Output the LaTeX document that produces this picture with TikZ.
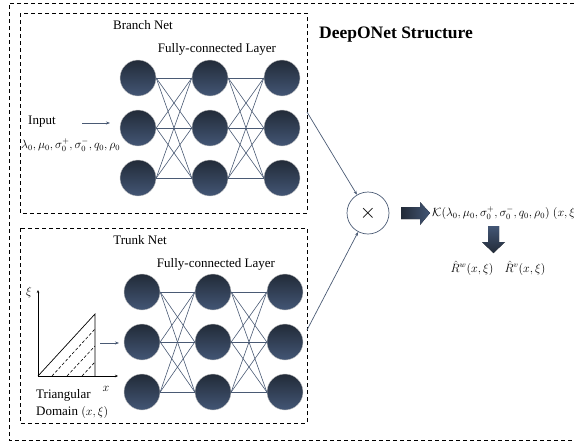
\documentclass[tikz,border=0pt]{standalone}
\usepackage{fontspec}
\setmainfont{Liberation Serif}
\usepackage{amsmath}
\usetikzlibrary{arrows.meta}
\definecolor{ndark}{HTML}{222B38}
\definecolor{nlight}{HTML}{435675}
\definecolor{linecol}{HTML}{4A5A74}
\begin{document}
\begin{tikzpicture}[x=1pt,y=-1pt,
  neuron/.style={circle, minimum size=36pt, inner sep=0pt, top color=ndark, bottom color=nlight, draw=gray!45, line width=0.4pt},
  conn/.style={draw=linecol, line width=0.6pt},
  dbox/.style={draw=black, line width=0.9pt, dash pattern=on 4pt off 3pt},
  lbl/.style={font=\fontsize{13}{15}\selectfont, inner sep=0pt},
  mlbl/.style={font=\fontsize{11.5}{13}\selectfont, inner sep=0pt},
  thin/.style={draw=linecol, line width=0.7pt, -{Stealth[length=4pt,width=3pt]}}
]
\useasboundingbox (0,0) rectangle (574,445);
% outer box (open to the right)
\draw[dbox] (574,3) -- (9,3) -- (9,440) -- (574,440);
% inner boxes
\draw[dbox] (20,13) rectangle (307,213);
\draw[dbox] (20,228) rectangle (307,423);
\coordinate (bR) at (307,112);
\coordinate (tR) at (307,330);

\node[font=\fontsize{17.5}{20}\selectfont\bfseries, inner sep=0pt] (title) at (396,35) {DeepONet Structure};

% Branch net
\node[lbl] (bnet) at (143,25) {Branch Net};
\node[lbl] (bfc) at (217,49) {Fully-connected Layer};
\foreach \c/\x in {1/138,2/210,3/282}
  \foreach \r/\y in {1/78,2/128,3/178}
    \node[neuron] (b\c\r) at (\x,\y) {};
\foreach \a/\b in {1/2,2/3}
  \foreach \i in {1,2,3}
    \foreach \j in {1,2,3}
      \draw[conn] (b\a\i.east) -- (b\b\j.west);
\node[lbl, anchor=west] (inp) at (28,122) {Input};
\coordinate (inA) at (82,123);
\coordinate (inB) at (110,123);
\draw[thin] (inA) -- (inB);
\node[mlbl, anchor=west] (params) at (21,145) {$\lambda_0,\mu_0,\sigma_0^+,\sigma_0^-,q_0,\rho_0$};

% Trunk net
\node[lbl] (tnet) at (140,240) {Trunk Net};
\node[lbl] (tfc) at (216,264) {Fully-connected Layer};
\foreach \c/\x in {1/142,2/213,3/285}
  \foreach \r/\y in {1/292,2/342,3/392}
    \node[neuron] (t\c\r) at (\x,\y) {};
\foreach \a/\b in {1/2,2/3}
  \foreach \i in {1,2,3}
    \foreach \j in {1,2,3}
      \draw[conn] (t\a\i.east) -- (t\b\j.west);

% triangular domain plot
\coordinate (O) at (38,376);
\coordinate (Ytop) at (38,290);
\coordinate (Xend) at (118,376);
\draw[line width=0.7pt, -{Stealth[length=3pt,width=2.5pt]}] (O) -- (Ytop);
\draw[line width=0.7pt, -{Stealth[length=3pt,width=2.5pt]}] (O) -- (Xend);
\draw[line width=0.7pt] (O) -- (95,314) -- (95,376);
\draw[line width=0.6pt, dash pattern=on 3pt off 2pt] (52,376) -- (95,329);
\draw[line width=0.6pt, dash pattern=on 3pt off 2pt] (67,376) -- (95,346);
\draw[line width=0.6pt, dash pattern=on 3pt off 2pt] (82,376) -- (95,362);
\node[mlbl] (xi) at (29,292) {$\xi$};
\node[mlbl] (xl) at (106,389) {$x$};
\node[lbl, anchor=west] (tri) at (36,395) {Triangular};
\node[lbl, anchor=west] (dom) at (36,412) {Domain $(x,\xi)$};
\coordinate (tA) at (100,343);
\coordinate (tB) at (119,343);
\draw[thin] (tA) -- (tB);

% product
\node[circle, draw=linecol, line width=0.7pt, minimum size=42pt, inner sep=0pt, font=\fontsize{20}{22}\selectfont] (mul) at (368,213) {$\times$};
\draw[thin] (bR) -- (mul);
\draw[thin] (tR) -- (mul);

% fat arrows
\coordinate (fa) at (401,213);
\fill[left color=ndark, right color=nlight] (fa) ++(0,-6) -- ++(19,0) -- ++(0,-5) -- (430,213) -- (420,225) -- ++(0,-6) -- (401,219) -- cycle;
\node[mlbl, anchor=west] (K) at (432,213) {$\mathcal{K}(\lambda_0,\mu_0,\sigma_0^+,\sigma_0^-,q_0,\rho_0)\;(x,\xi)$};
\coordinate (fd) at (488,226);
\fill[top color=nlight, bottom color=ndark] (fd) -- (499,226) -- (499,242) -- (505,242) -- (493.5,253) -- (482,242) -- (488,242) -- cycle;
\node[mlbl] (rw) at (472,268) {$\hat{R}^w(x,\xi)$};
\node[mlbl] (rv) at (525,268) {$\hat{R}^v(x,\xi)$};
\end{tikzpicture}
\end{document}
